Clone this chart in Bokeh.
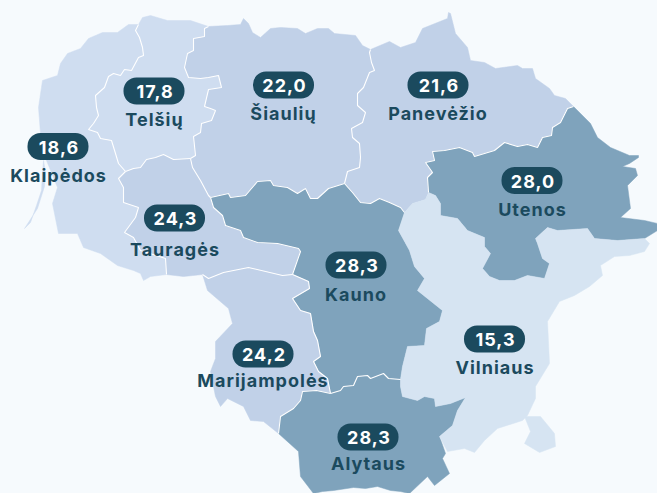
from bokeh.plotting import figure
from bokeh.embed import file_html
from bokeh.resources import INLINE
from bokeh.core.properties import value

# ---- chart values ----
regions = ["Klaipėdos", "Telšių", "Šiaulių", "Panevėžio", "Utenos", "Tauragės", "Kauno", "Marijampolės", "Alytaus", "Vilniaus"]
values = ["18,6", "17,8", "22,0", "21,6", "28,0", "24,3", "28,3", "24,2", "28,3", "15,3"]
bin_colors = ["#cfddf0", "#cfddf0", "#c1d1e8", "#c1d1e8", "#7fa3bc", "#c1d1e8", "#7fa3bc", "#c1d1e8", "#7fa3bc", "#d6e4f2"]
pill_x = [57.5, 153.5, 283, 437.5, 531.5, 174, 355.5, 262.5, 367.5, 494]
pill_y = [146, 90.5, 84.5, 84.5, 180, 217.5, 264.5, 353.5, 436.5, 338.5]
name_x = [57.5, 153.5, 282.5, 437, 531.5, 174, 355, 262, 367.5, 494]
name_y = [175, 119, 113, 113, 209, 249, 294, 380, 463, 367]

# ---- map geometry, in map units, boundary arcs shared between regions ----
kl_te = [(138,24),(135,30),(139,37),(142,47),(143,55),(138,57),(131,70),(124,69),(120,75),(113,73),(108,76),(104,87),(95,95),(96,107),(98,115),(93,123),(88,129),(97,132),(100,138),(111,140),(115,153),(118,163),(125,171)]
te_ta = [(125,171),(133,168),(140,167),(146,159),(155,157),(163,154),(173,159),(190,158)]
te_si = [(208,26),(204,28),(204,36),(193,38),(193,50),(187,53),(184,67),(188,77),(200,78),(208,77),(218,75),(221,87),(208,89),(204,106),(210,108),(215,110),(211,120),(201,123),(200,132),(193,136),(195,155),(190,158)]
te_top = [(138,24),(142,17),(150,15),(167,20),(190,20),(208,26)]
kl_coast = [(138,24),(128,24),(117,32),(102,32),(88,38),(80,48),(67,53),(60,63),(57,75),(42,80),(38,107),(40,133),(46,160),(57,187),(52,203),(58,233),(77,233),(83,247),(100,253),(117,265),(133,270),(140,273),(143,280),(150,276),(166,274)]
kl_ta = [(125,171),(118,178),(123,187),(123,202),(138,207),(135,217),(124,232),(133,237),(140,250),(165,258),(166,274)]
spit = [(43,160),(45,172),(44,186),(37,208),(24,228),(30,222),(36,205),(41,190),(42,172)]
ta_bottom = [(166,274),(183,276),(202,274)]
ta_ma = [(202,274),(208,278),(223,272),(248,267),(282,275),(292,274)]
ta_ka = [(292,274),(300,251),(298,248),(277,243),(257,242),(243,237),(240,230),(225,225),(222,215),(213,207),(210,197)]
ta_si = [(190,158),(192,167),(200,180),(208,195),(210,197)]
si_top = [(208,26),(227,25),(240,24),(243,18),(248,23),(252,32),(260,37),(270,28),(280,27),(297,28),(305,33),(317,28),(328,28),(334,33),(355,35),(362,45),(370,49)]
si_pa = [(370,49),(369,52),(371,62),(374,70),(369,72),(363,87),(357,93),(357,105),(365,112),(362,122),(351,128),(352,137),(359,143),(360,157),(359,167),(347,171),(344,183)]
si_ka = [(210,197),(228,193),(230,197),(245,195),(257,181),(270,180),(273,185),(287,187),(297,193),(305,188),(310,198),(317,198),(328,188),(344,183)]
pa_ka = [(344,183),(352,192),(360,202),(370,203),(379,198),(389,202),(400,207),(404,212)]
pa_vi = [(404,212),(412,203),(425,199),(428,192)]
pa_ut = [(428,192),(427,177),(432,172),(425,162),(434,160),(432,151),(444,150),(459,147),(472,152),(474,156),(494,150),(504,142),(517,146),(527,144),(537,147),(542,137),(551,135),(552,127),(560,122),(567,108),(573,106)]
pa_top = [(370,49),(389,41),(400,47),(415,42),(422,28),(447,18),(448,12),(450,13),(455,33),(467,47),(470,60),(484,62),(495,68),(517,65),(522,68),(532,68),(535,78),(549,88),(554,95),(565,98),(573,106)]
ut_out = [(573,106),(590,123),(597,137),(610,147),(629,155),(638,155),(638,157),(629,163),(622,166),(635,168),(637,175),(627,185),(630,208),(620,217),(644,220),(657,223),(657,230),(644,238)]
ut_vi = [(644,238),(617,240),(594,238),(587,228),(557,230),(547,227),(535,238),(537,243),(542,258),(549,263),(544,278),(527,275),(514,280),(499,280),(489,276),(482,268),(490,253),(484,246),(484,237),(467,230),(457,218),(440,215),(440,203),(435,195),(428,192)]
vi_out = [(644,238),(649,243),(644,251),(629,255),(614,256),(600,265),(602,275),(589,286),(574,295),(559,301),(547,321),(549,363),(535,386),(535,398),(527,415),(522,420),(497,428),(484,440),(474,452),(464,448),(447,451),(439,436)]
vi_al = [(439,436),(452,425),(457,410),(465,397),(450,403),(435,406),(434,398),(424,396),(417,400),(402,396),(400,386),(400,379)]
vi_ka = [(400,379),(402,366),(407,346),(424,345),(426,328),(439,321),(442,310),(417,290),(424,278),(414,266),(409,250),(398,230),(404,212)]
vi_encl = [(524,416),(540,416),(554,433),(555,446),(539,452),(524,443),(530,431)]
al_out = [(439,436),(445,453),(442,458),(449,473),(434,485),(427,476),(409,493),(400,491),(390,490),(377,486),(365,488),(353,487),(333,490),(322,491),(313,493),(300,476),(298,451),(278,433)]
al_ma = [(278,433),(280,416),(293,408),(300,400),(302,391),(316,390),(330,393)]
al_ka = [(330,393),(340,390),(343,386),(353,385),(357,376),(367,375),(370,378),(383,373),(388,378),(400,379)]
ka_ma = [(292,274),(308,281),(309,288),(292,298),(300,310),(310,313),(313,331),(317,340),(320,356),(313,361),(318,371),(327,378),(330,393)]
ma_out = [(202,274),(207,290),(228,308),(232,323),(215,341),(215,358),(210,371),(215,396),(220,406),(227,398),(243,406),(250,420),(263,421),(278,433)]

def ring(*arcs):
    pts = []
    for a in arcs:
        pts.extend(a)
    return pts
def rev(a):
    return a[::-1]

shapes = [
    (ring(kl_coast, rev(kl_ta), rev(kl_te)), bin_colors[0]),
    (spit, bin_colors[0]),
    (ring(te_top, te_si, rev(te_ta), rev(kl_te)), bin_colors[1]),
    (ring(si_top, si_pa, rev(si_ka), rev(ta_si), rev(te_si)), bin_colors[2]),
    (ring(pa_top, rev(pa_ut), rev(pa_vi), rev(pa_ka), rev(si_pa)), bin_colors[3]),
    (ring(ut_out, ut_vi, pa_ut), bin_colors[4]),
    (ring(te_ta, ta_si, rev(ta_ka), rev(ta_ma), rev(ta_bottom), rev(kl_ta)), bin_colors[5]),
    (ring(si_ka, pa_ka, rev(vi_ka), rev(al_ka), rev(ka_ma), ta_ka), bin_colors[6]),
    (ring(ta_ma, ka_ma, rev(al_ma), rev(ma_out)), bin_colors[7]),
    (ring(al_out, al_ma, al_ka, rev(vi_al)), bin_colors[8]),
    (ring(vi_out, vi_al, vi_ka, pa_vi, rev(ut_vi)), bin_colors[9]),
    (vi_encl, bin_colors[9]),
]
white_arcs = [kl_te, te_ta, te_si, kl_ta, ta_ma, ta_ka, ta_si, si_pa, si_ka, pa_ka, pa_ut, al_ma, al_ka, ka_ma]

BG = "#f6fafd"
DARK = "#1b4a5e"
SPACING = 1.0
p = figure(width=657, height=493, x_range=(0, 657), y_range=(493, 0), output_backend="svg",
           toolbar_location=None, min_border=0, background_fill_color=BG, border_fill_color=BG,
           outline_line_color=None)
p.axis.visible = False
p.grid.visible = False

p.patches([[q[0] for q in s] for s, _ in shapes], [[q[1] for q in s] for s, _ in shapes],
          fill_color=[c for _, c in shapes], line_color=[c for _, c in shapes], line_width=0.5)
p.multi_line([[q[0] for q in a] for a in white_arcs], [[q[1] for q in a] for a in white_arcs],
             line_color="white", line_width=1.1)

# letter spacing is not seen by the text anchor, so the centred texts are moved back by half of it
value_shift = [-(len(t) - 1) * SPACING / 2 + 0.5 for t in values]
name_shift = [-(len(t) - 1) * SPACING / 2 for t in regions]

p.rect(pill_x, pill_y, width=61, height=27, fill_color=DARK, line_color=None, border_radius=13)
p.text([x + s for x, s in zip(pill_x, value_shift)], pill_y, text=values, text_color="white",
       text_font=value("Inter"), text_font_style="bold", text_font_size="18px",
       text_align="center", text_baseline="middle", y_offset=0.5)
p.text([x + s for x, s in zip(name_x, name_shift)], name_y, text=regions, text_color=DARK,
       text_font=value("Inter"), text_font_style="bold", text_font_size="18px",
       text_align="center", text_baseline="middle")

html = file_html(p, INLINE)
html = html.replace("</head>", "<style>html,body{margin:0;padding:0;overflow:hidden;background:#f6fafd;letter-spacing:1px}</style></head>", 1)
open("out.html", "w", encoding="utf-8").write(html)
